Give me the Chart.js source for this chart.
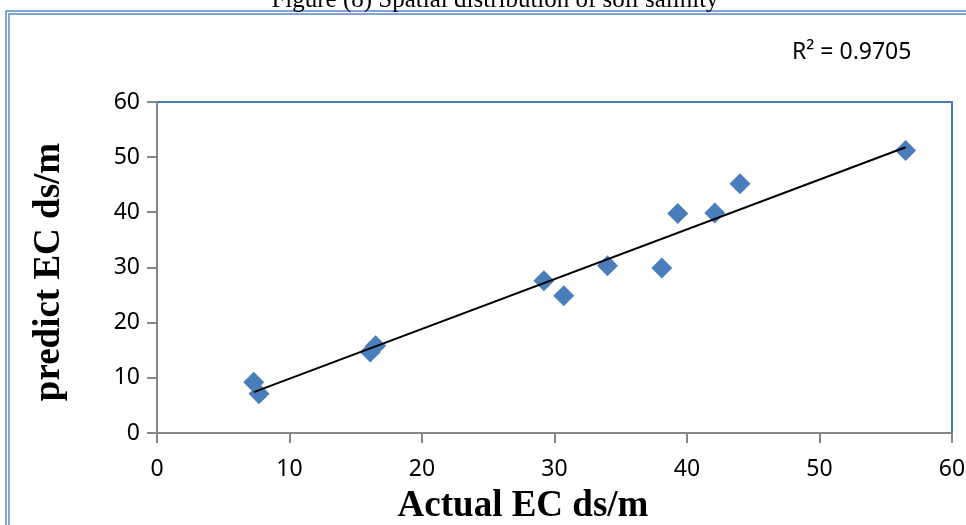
<!DOCTYPE html>
<html>
<head>
<meta charset="utf-8">
<script src="https://cdn.jsdelivr.net/npm/chart.js@4/dist/chart.umd.min.js"></script>
<style>
  html, body { margin: 0; padding: 0; background: #ffffff; }
  #wrap { width: 966px; height: 525px; position: relative; }
</style>
</head>
<body>
<div id="wrap"><canvas id="c" width="966" height="525"></canvas></div>
<script>
// ---- data ----
const actualEC  = [7.3, 7.7, 16.1, 16.5, 29.2, 30.7, 34.0, 38.1, 39.3, 42.1, 44.0, 56.5];
const predictEC = [9.2, 7.1, 14.7, 15.8, 27.6, 24.9, 30.3, 29.9, 39.8, 39.9, 45.2, 51.2];
const trendX = [7.3, 56.5];
const trendY = [7.4, 51.8];
const axisTicks = [0, 10, 20, 30, 40, 50, 60];
const figureTitle = 'Figure (8) Spatial distribution of soil salinity';
const r2Label = 'R\u00B2 = 0.9705';
const xTitle = 'Actual EC ds/m';
const yTitle = 'predict EC ds/m';

const BLUE = '#4A7EBB';
const FRAME = '#5B88C2';
const AXIS = '#868686';

const decor = {
  id: 'decor',
  beforeDraw(chart) {
    const ctx = chart.ctx;
    ctx.save();
    ctx.fillStyle = '#ffffff';
    ctx.fillRect(0, 0, chart.width, chart.height);
    // outer double frame
    ctx.strokeStyle = FRAME;
    ctx.lineWidth = 1.5;
    ctx.strokeRect(6, 11, 1200, 800);
    ctx.strokeRect(9, 14, 1200, 800);
    // figure caption (cut off at top)
    ctx.fillStyle = '#000000';
    ctx.font = '25px "Liberation Serif"';
    ctx.textAlign = 'center';
    ctx.textBaseline = 'alphabetic';
    ctx.fillText(figureTitle, 495, 7);
    ctx.restore();
  },
  afterDraw(chart) {
    const ctx = chart.ctx;
    const a = chart.chartArea;
    ctx.save();
    // blue top/right plot border
    ctx.strokeStyle = BLUE;
    ctx.lineWidth = 2;
    ctx.beginPath();
    ctx.moveTo(a.left, a.top);
    ctx.lineTo(a.right, a.top);
    ctx.lineTo(a.right, a.bottom);
    ctx.stroke();
    // R^2 label
    ctx.fillStyle = '#000000';
    ctx.font = '23px "Noto Sans"';
    ctx.textAlign = 'left';
    ctx.textBaseline = 'alphabetic';
    ctx.fillText(r2Label, 792, 59);
    // axis titles
    ctx.font = 'bold 37px "Liberation Serif"';
    ctx.textAlign = 'center';
    ctx.fillText(xTitle, 523, 516);
    ctx.translate(59, 272);
    ctx.rotate(-Math.PI / 2);
    ctx.fillText(yTitle, 0, 0);
    ctx.restore();
  }
};

const tickFont = { family: '"Noto Sans"', size: 23 };

new Chart(document.getElementById('c'), {
  type: 'scatter',
  data: {
    datasets: [
      {
        type: 'line',
        label: 'trend',
        data: trendX.map((x, i) => ({ x: x, y: trendY[i] })),
        borderColor: '#000000',
        borderWidth: 2,
        pointRadius: 0,
        showLine: true,
        fill: false,
        order: 0
      },
      {
        label: 'EC',
        data: actualEC.map((x, i) => ({ x: x, y: predictEC[i] })),
        pointStyle: 'rectRot',
        pointRadius: 10.5,
        pointHoverRadius: 10.5,
        backgroundColor: BLUE,
        borderColor: BLUE,
        borderWidth: 0,
        order: 1
      }
    ]
  },
  options: {
    responsive: false,
    animation: false,
    devicePixelRatio: 1,
    layout: { padding: { top: 102, right: 14, left: 0, bottom: 0 } },
    plugins: { legend: { display: false }, tooltip: { enabled: false } },
    scales: {
      x: {
        type: 'linear',
        min: 0, max: 60,
        afterBuildTicks: s => { s.ticks = axisTicks.map(v => ({ value: v })); },
        afterFit: s => { s.height = 92; s.paddingLeft = 0; s.paddingRight = 0; },
        grid: { drawOnChartArea: false, drawTicks: true, tickLength: 10, color: AXIS, lineWidth: 2 },
        border: { color: AXIS, width: 2 },
        ticks: { color: '#000000', font: tickFont, padding: 13, maxRotation: 0 }
      },
      y: {
        type: 'linear',
        min: 0, max: 60,
        afterBuildTicks: s => { s.ticks = axisTicks.map(v => ({ value: v })); },
        afterFit: s => { s.width = 157; s.paddingTop = 0; s.paddingBottom = 0; },
        grid: { drawOnChartArea: false, drawTicks: true, tickLength: 10, color: AXIS, lineWidth: 2 },
        border: { color: AXIS, width: 2 },
        ticks: { color: '#000000', font: tickFont, padding: 7 }
      }
    }
  },
  plugins: [decor]
});
</script>
</body>
</html>
